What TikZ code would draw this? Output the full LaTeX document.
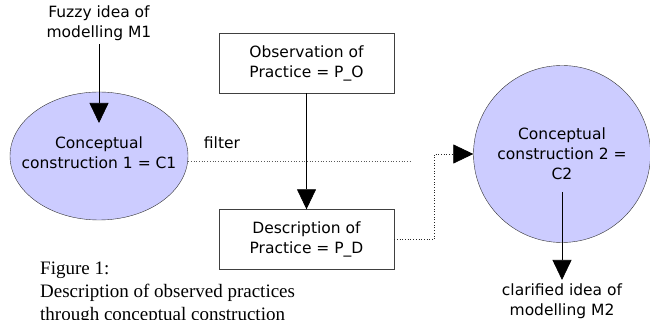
\documentclass[tikz,border=0pt]{standalone}
\usepackage{fontspec}
\setmainfont{DejaVu Sans}
\newfontfamily\captionserif{Liberation Serif}
\usepackage{tikz}
\usetikzlibrary{arrows.meta,shapes.geometric}
\definecolor{lavender}{RGB}{204,204,255}
\tikzset{every node/.style={font=\fontsize{15.5}{20}\selectfont, align=center},
    concept/.style={draw=black!80, fill=lavender, inner sep=0pt},
    stepbox/.style={draw=black!75, minimum width=175pt, minimum height=60pt},
    flow/.style={-{Triangle[length=20pt,width=19pt,color=black]}, line width=0.7pt},
    filt/.style={dotted, line width=0.7pt, black!65}}

\begin{document}
\begin{tikzpicture}[x=1pt,y=-1pt]
    \useasboundingbox (0,0) rectangle (650,320);
    % left side
    \node (fuzzy) at (99,23) {Fuzzy idea of\\modelling M1};
    \node[concept, ellipse, minimum width=178pt, minimum height=128pt] (c1) at (99,156) {};
    \node (c1text) at (99,153) {Conceptual\\construction 1 = C1};
    \coordinate (c1in) at (99,123);
    \draw[flow] (fuzzy) -- (c1in);
    % filter line
    \node (filter) at (222,143) {filter};
    \coordinate (filterend) at (412,161);
    \draw[filt] (c1.east |- filterend) -- (filterend);
    % observation and description
    \node[stepbox] (po) at (306.5,63) {Observation of\\Practice = P\_O};
    \node[stepbox] (pd) at (306.5,239.5) {Description of\\Practice = P\_D};
    \draw[flow] (po) -- (pd);
    % right side
    \node[concept, circle, minimum size=177pt] (c2) at (562,154)
        {Conceptual\\construction 2 =\\C2};
    \draw[filt, flow, black!85] (pd.east) -- ++(40,0) |- (c2.west);
    \node (clar) at (562,301) {clarified idea of\\modelling M2};
    \coordinate (c2in) at (562,192);
    \draw[flow] (c2in) -- (clar);
    % caption
    \node[anchor=north west, align=left, inner sep=0pt,
        font=\captionserif\fontsize{19}{23}\selectfont] (cap) at (40,262)
        {Figure 1:\\Description of observed practices\\through conceptual construction};
\end{tikzpicture}
\end{document}
